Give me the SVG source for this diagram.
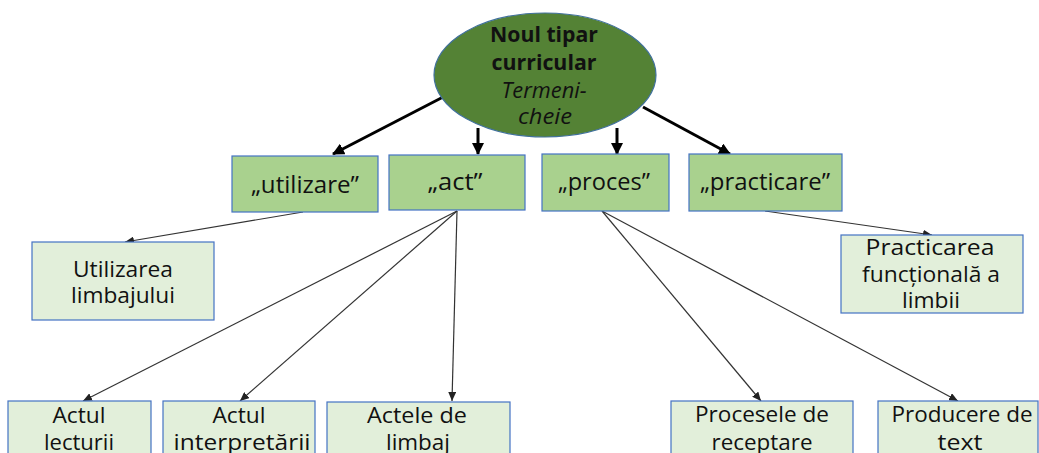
<svg xmlns="http://www.w3.org/2000/svg" width="1039" height="453" viewBox="0 0 1039 453">
<defs>
<marker id="ah" markerUnits="userSpaceOnUse" markerWidth="12" markerHeight="12" viewBox="0 0 12 12" refX="11" refY="6" orient="auto">
<path d="M0,0 L12,6 L0,12 Z" fill="#000"/>
</marker>
<marker id="as" markerUnits="userSpaceOnUse" markerWidth="9" markerHeight="8" viewBox="0 0 9 8" refX="9" refY="4" orient="auto">
<path d="M0,0 L9,4 L0,8 Z" fill="#222"/>
</marker>
<style>
.t{font-family:"Open Sans","Liberation Sans",sans-serif;fill:#111;text-anchor:middle}
.k{font-size:24px}
.s{font-size:21px}
.b{font-weight:bold;font-size:21px}
.i{font-style:italic;font-size:21px}
.top{fill:#A9D18E;stroke:#4472C4;stroke-width:1.2}
.low{fill:#E2EFDA;stroke:#4472C4;stroke-width:1.2}
.thick{stroke:#000;stroke-width:3;fill:none;marker-end:url(#ah)}
.thin{stroke:#333;stroke-width:1.2;fill:none;marker-end:url(#as)}
</style>
</defs>
<rect width="1039" height="453" fill="#fff"/>
<g id="connectors">
<line class="thick" x1="447" y1="95" x2="333" y2="154"/>
<line class="thick" x1="478" y1="128" x2="478" y2="154"/>
<line class="thick" x1="617" y1="128" x2="617" y2="154"/>
<line class="thick" x1="643" y1="107" x2="730" y2="154"/>
<line class="thin" x1="303" y1="212" x2="125" y2="242"/>
<line class="thin" x1="457" y1="211" x2="83" y2="401"/>
<line class="thin" x1="457" y1="211" x2="240" y2="401"/>
<line class="thin" x1="457" y1="211" x2="452" y2="401"/>
<line class="thin" x1="602" y1="211" x2="761" y2="401"/>
<line class="thin" x1="602" y1="211" x2="958" y2="401"/>
<line class="thin" x1="765" y1="211" x2="932" y2="235"/>
</g>
<g id="root">
<ellipse cx="545" cy="75" rx="111" ry="62" fill="#548235" stroke="#41719C" stroke-width="1.2"/>
<text class="t b" x="544" y="42" textLength="108" lengthAdjust="spacingAndGlyphs">Noul tipar</text>
<text class="t b" x="544" y="70" textLength="105" lengthAdjust="spacingAndGlyphs">curricular</text>
<text class="t i" x="544" y="98" textLength="85" lengthAdjust="spacingAndGlyphs">Termeni-</text>
<text class="t i" x="545" y="124" textLength="54" lengthAdjust="spacingAndGlyphs">cheie</text>
</g>
<g id="n-utilizare">
<rect class="top" x="232" y="156" width="146" height="56"/>
<text class="t k" x="305" y="193" textLength="108" lengthAdjust="spacingAndGlyphs">„utilizare”</text>
</g>
<g id="n-act">
<rect class="top" x="389" y="155" width="136" height="55"/>
<text class="t k" x="455" y="190" textLength="55" lengthAdjust="spacingAndGlyphs">„act”</text>
</g>
<g id="n-proces">
<rect class="top" x="542" y="154" width="127" height="57"/>
<text class="t k" x="604" y="190" textLength="92" lengthAdjust="spacingAndGlyphs">„proces”</text>
</g>
<g id="n-practicare">
<rect class="top" x="689" y="154" width="153" height="57"/>
<text class="t k" x="765" y="190" textLength="130" lengthAdjust="spacingAndGlyphs">„practicare”</text>
</g>
<g id="n-utilizarea">
<rect class="low" x="32" y="242" width="182" height="78"/>
<text class="t s" x="123" y="277" textLength="100" lengthAdjust="spacingAndGlyphs">Utilizarea</text>
<text class="t s" x="123" y="303" textLength="104" lengthAdjust="spacingAndGlyphs">limbajului</text>
</g>
<g id="n-practicarea">
<rect class="low" x="841" y="235" width="182" height="78"/>
<text class="t s" x="930" y="255" textLength="129" lengthAdjust="spacingAndGlyphs">Practicarea</text>
<text class="t s" x="931" y="282" textLength="138" lengthAdjust="spacingAndGlyphs">funcțională a</text>
<text class="t s" x="931" y="308" textLength="58" lengthAdjust="spacingAndGlyphs">limbii</text>
</g>
<g id="n-lecturii">
<rect class="low" x="8" y="401" width="143" height="60"/>
<text class="t s" x="79" y="423" textLength="53" lengthAdjust="spacingAndGlyphs">Actul</text>
<text class="t s" x="79" y="450" textLength="70" lengthAdjust="spacingAndGlyphs">lecturii</text>
</g>
<g id="n-interpretarii">
<rect class="low" x="163" y="401" width="152" height="60"/>
<text class="t s" x="239" y="423" textLength="53" lengthAdjust="spacingAndGlyphs">Actul</text>
<text class="t s" x="242" y="450" textLength="137" lengthAdjust="spacingAndGlyphs">interpretării</text>
</g>
<g id="n-actele">
<rect class="low" x="327" y="402" width="183" height="60"/>
<text class="t s" x="417" y="423" textLength="100" lengthAdjust="spacingAndGlyphs">Actele de</text>
<text class="t s" x="418" y="450" textLength="64" lengthAdjust="spacingAndGlyphs">limbaj</text>
</g>
<g id="n-procesele">
<rect class="low" x="671" y="401" width="182" height="60"/>
<text class="t s" x="762" y="422" textLength="134" lengthAdjust="spacingAndGlyphs">Procesele de</text>
<text class="t s" x="762" y="450" textLength="101" lengthAdjust="spacingAndGlyphs">receptare</text>
</g>
<g id="n-producere">
<rect class="low" x="878" y="401" width="160" height="60"/>
<text class="t s" x="962" y="422" textLength="141" lengthAdjust="spacingAndGlyphs">Producere de</text>
<text class="t s" x="960" y="450" textLength="45" lengthAdjust="spacingAndGlyphs">text</text>
</g>
</svg>
